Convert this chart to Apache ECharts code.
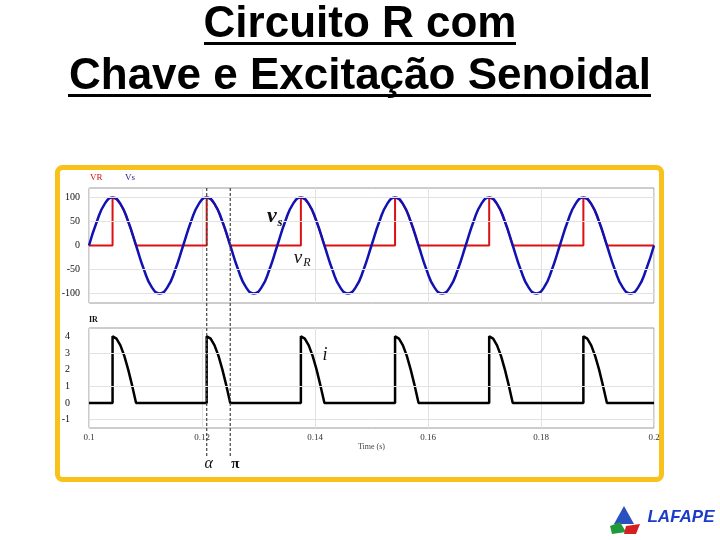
<!DOCTYPE html>
<html>
<head>
<meta charset="utf-8">
<script src="https://cdn.jsdelivr.net/npm/echarts@6/dist/echarts.min.js"></script>
<style>
html,body{margin:0;padding:0;background:#fff;}
#c{width:720px;height:540px;}
</style>
</head>
<body>
<div id="c"></div>
<script>
// ---- data ----
const titleLines = ['Circuito R com', 'Chave e Excitação Senoidal'];
const times = [0.1,0.10139,0.10278,0.10417,0.10556,0.10694,0.10833,0.10972,0.11111,0.1125,0.11389,0.11528,
  0.11667,0.11806,0.11944,0.12083,0.12222,0.12361,0.125,0.12639,0.12778,0.12917,0.13056,0.13194,
  0.13333,0.13472,0.13611,0.1375,0.13889,0.14028,0.14167,0.14306,0.14444,0.14583,0.14722,0.14861,
  0.15,0.15139,0.15278,0.15417,0.15556,0.15694,0.15833,0.15972,0.16111,0.1625,0.16389,0.16528,
  0.16667,0.16806,0.16944,0.17083,0.17222,0.17361,0.175,0.17639,0.17778,0.17917,0.18056,0.18194,
  0.18333,0.18472,0.18611,0.1875,0.18889,0.19028,0.19167,0.19306,0.19444,0.19583,0.19722,0.19861,0.2];
const vsValues = [0,50,87,100,87,50,0,-50,-87,-100,-87,-50,
  0,50,87,100,87,50,0,-50,-87,-100,-87,-50,
  0,50,87,100,87,50,0,-50,-87,-100,-87,-50,
  0,50,87,100,87,50,0,-50,-87,-100,-87,-50,
  0,50,87,100,87,50,0,-50,-87,-100,-87,-50,
  0,50,87,100,87,50,0,-50,-87,-100,-87,-50,0];
const switchTimes = [0.1,
  0.10417,0.10417,0.10486,0.10556,0.10625,0.10694,0.10764,0.10833,
  0.12083,0.12083,0.12153,0.12222,0.12292,0.12361,0.12431,0.125,
  0.1375,0.1375,0.13819,0.13889,0.13958,0.14028,0.14097,0.14167,
  0.15417,0.15417,0.15486,0.15556,0.15625,0.15694,0.15764,0.15833,
  0.17083,0.17083,0.17153,0.17222,0.17292,0.17361,0.17431,0.175,
  0.1875,0.1875,0.18819,0.18889,0.18958,0.19028,0.19097,0.19167,
  0.2];
const vrValues = [0,
  0,100,96.6,86.6,70.7,50,25.9,0,
  0,100,96.6,86.6,70.7,50,25.9,0,
  0,100,96.6,86.6,70.7,50,25.9,0,
  0,100,96.6,86.6,70.7,50,25.9,0,
  0,100,96.6,86.6,70.7,50,25.9,0,
  0,100,96.6,86.6,70.7,50,25.9,0,
  0];
const iValues = [0,
  0,4,3.86,3.46,2.83,2,1.04,0,
  0,4,3.86,3.46,2.83,2,1.04,0,
  0,4,3.86,3.46,2.83,2,1.04,0,
  0,4,3.86,3.46,2.83,2,1.04,0,
  0,4,3.86,3.46,2.83,2,1.04,0,
  0,4,3.86,3.46,2.83,2,1.04,0,
  0];
const xTickValues = [0.1,0.12,0.14,0.16,0.18,0.2];
const topTickValues = [-100,-50,0,50,100];
const topGridValues = [-100,-50,50,100];
const bottomTickValues = [-1,0,1,2,3,4];
const bottomGridValues = [-1,1,3];
const alphaTime = 0.120833;
const piTime = 0.125;

// ---- chart ----
const chart = echarts.init(document.getElementById('c'), null, {renderer:'canvas'});
const serif = 'Liberation Serif, Times New Roman, serif';
const pair = (xs, ys) => xs.map((x, k) => [x, ys[k]]);
const gridLineStyle = {color:'#e2e2e2', width:1, type:'solid'};

const xBase = {
  type:'value', min:0.1, max:0.2, interval:0.02,
  axisLine:{show:false}, axisTick:{show:false},
  splitLine:{show:true, lineStyle:{color:'#e2e2e2', width:1}}
};

chart.setOption({
  animation:false,
  backgroundColor:'#ffffff',
  grid:[
    {left:89, right:66, top:188, height:115, show:true, borderColor:'#9a9a9a', borderWidth:1, backgroundColor:'transparent'},
    {left:89, right:66, top:328, height:100, show:true, borderColor:'#9a9a9a', borderWidth:1, backgroundColor:'transparent'}
  ],
  xAxis:[
    Object.assign({}, xBase, {gridIndex:0, axisLabel:{show:false}}),
    Object.assign({}, xBase, {gridIndex:1,
      name:'Time (s)', nameLocation:'middle', nameGap:15,
      nameTextStyle:{fontFamily:serif, fontSize:8, color:'#444'},
      axisLabel:{show:true, margin:5, fontFamily:serif, fontSize:9, color:'#333',
        customValues:xTickValues}})
  ],
  yAxis:[
    {type:'value', gridIndex:0, min:-120, max:120,
      axisLine:{show:false}, axisTick:{show:false}, splitLine:{show:false},
      axisLabel:{margin:9, fontFamily:serif, fontSize:10, color:'#111', customValues:topTickValues}},
    {type:'value', gridIndex:1, min:-1.5, max:4.5,
      axisLine:{show:false}, axisTick:{show:false}, splitLine:{show:false},
      axisLabel:{margin:19, fontFamily:serif, fontSize:10, color:'#111', customValues:bottomTickValues}}
  ],
  series:[
    {name:'VR', type:'line', xAxisIndex:0, yAxisIndex:0, data:pair(switchTimes, vrValues),
      showSymbol:false, lineStyle:{color:'#dd1111', width:2}, z:2,
      markLine:{silent:true, symbol:'none', label:{show:false}, lineStyle:gridLineStyle,
        data:topGridValues.map(v => ({yAxis:v}))}},
    {name:'Vs', type:'line', xAxisIndex:0, yAxisIndex:0, data:pair(times, vsValues),
      showSymbol:false, smooth:0.5, lineStyle:{color:'#1212b4', width:2.5}, z:3},
    {name:'IR', type:'line', xAxisIndex:1, yAxisIndex:1, data:pair(switchTimes, iValues),
      showSymbol:false, lineStyle:{color:'#000000', width:2.5}, z:3,
      markLine:{silent:true, symbol:'none', label:{show:false}, lineStyle:gridLineStyle,
        data:bottomGridValues.map(v => ({yAxis:v}))}}
  ]
});

const ax = chart.convertToPixel({xAxisIndex:0}, alphaTime);
const px = chart.convertToPixel({xAxisIndex:0}, piTime);
const titleFont = 'bold 44px "Liberation Sans", Arial, sans-serif';

chart.setOption({
  graphic:[
    // frame
    {type:'rect', shape:{x:57.5, y:167.5, width:604, height:312, r:5}, z:-10,
      style:{fill:'none', stroke:'#f8c21a', lineWidth:5}},
    // title
    {type:'text', x:360, y:25, style:{text:titleLines[0], font:titleFont, fill:'#000', align:'center', verticalAlign:'middle'}},
    {type:'rect', shape:{x:204, y:42, width:312, height:3}, style:{fill:'#000'}},
    {type:'text', x:360, y:77, style:{text:titleLines[1], font:titleFont, fill:'#000', align:'center', verticalAlign:'middle'}},
    {type:'rect', shape:{x:68, y:94, width:583, height:3}, style:{fill:'#000'}},
    // legend-like labels
    {type:'text', x:90, y:178, style:{text:'VR', font:'9px '+serif, fill:'#cc1111', verticalAlign:'middle'}},
    {type:'text', x:125, y:178, style:{text:'Vs', font:'9px '+serif, fill:'#1a1a99', verticalAlign:'middle'}},
    {type:'text', x:89, y:320, style:{text:'IR', font:'bold 8px '+serif, fill:'#111', verticalAlign:'middle'}},
    // switching instants
    {type:'line', shape:{x1:ax, y1:188, x2:ax, y2:457}, z:5, style:{stroke:'#444', lineWidth:1.2, lineDash:[3,2]}},
    {type:'line', shape:{x1:px, y1:188, x2:px, y2:457}, z:5, style:{stroke:'#444', lineWidth:1.2, lineDash:[3,2]}},
    {type:'text', x:ax+2, y:464, style:{text:'α', font:'italic 16px '+serif, fill:'#111', align:'center', verticalAlign:'middle'}},
    {type:'text', x:px+5, y:464, style:{text:'π', font:'bold 15px '+serif, fill:'#111', align:'center', verticalAlign:'middle'}},
    // curve annotations
    {type:'text', x:272, y:216, z:10, style:{text:'v', font:'bold italic 22px '+serif, fill:'#111', align:'center', verticalAlign:'middle'}},
    {type:'text', x:280, y:223, z:10, style:{text:'s', font:'bold italic 13px '+serif, fill:'#111', align:'center', verticalAlign:'middle'}},
    {type:'text', x:298, y:258, z:10, style:{text:'v', font:'italic 19px '+serif, fill:'#111', align:'center', verticalAlign:'middle'}},
    {type:'text', x:307, y:263, z:10, style:{text:'R', font:'italic 12px '+serif, fill:'#111', align:'center', verticalAlign:'middle'}},
    {type:'text', x:325, y:355, z:10, style:{text:'i', font:'italic 18px '+serif, fill:'#111', align:'center', verticalAlign:'middle'}},
    // logo
    {type:'polygon', shape:{points:[[624,506],[614,524],[634,524]]}, style:{fill:'#2a4fc0'}},
    {type:'polygon', shape:{points:[[610,526],[620,522],[626,532],[612,534]]}, style:{fill:'#1f9a3a'}},
    {type:'polygon', shape:{points:[[626,526],[640,524],[636,534],[624,534]]}, style:{fill:'#d42020'}},
    {type:'text', x:681, y:517, style:{text:'LAFAPE', font:'bold italic 17px "Liberation Sans", Arial, sans-serif', fill:'#1a3cc8', align:'center', verticalAlign:'middle'}}
  ]
});
</script>
</body>
</html>
